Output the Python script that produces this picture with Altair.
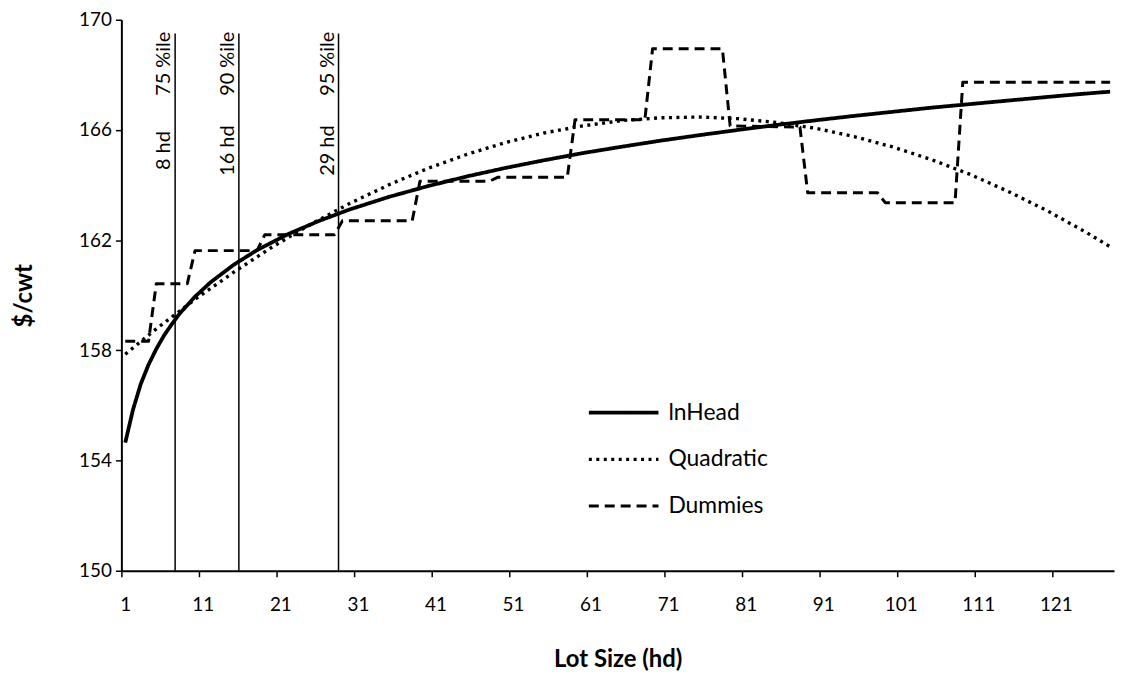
import altair as alt
import pandas as pd

# ---- data (x = lot-size category index, y = $/cwt) ----
inhead_x = [1, 2, 3, 4, 5, 6, 7, 8, 10, 12, 15, 18, 22, 26, 30, 35, 40, 45, 50, 55,
            60, 65, 70, 75, 80, 85, 90, 95, 100, 105, 110, 115, 120, 124, 128]
inhead_y = [154.65, 155.85, 156.78, 157.48, 158.05, 158.54, 158.95, 159.33, 159.95, 160.47,
            161.11, 161.64, 162.22, 162.70, 163.12, 163.57, 163.96, 164.31, 164.62, 164.90,
            165.16, 165.39, 165.61, 165.81, 166.00, 166.18, 166.35, 166.51, 166.66, 166.81,
            166.94, 167.07, 167.20, 167.30, 167.39]

quad_x = [1, 5, 10, 15, 20, 25, 30, 35, 40, 45, 50, 55, 60, 65, 70, 75, 80, 85, 90, 95,
          100, 105, 110, 115, 120, 125, 128]
quad_y = [157.86, 158.78, 159.85, 160.84, 161.76, 162.59, 163.34, 164.01, 164.60, 165.11,
          165.54, 165.89, 166.15, 166.34, 166.44, 166.47, 166.41, 166.27, 166.06, 165.76,
          165.38, 164.92, 164.38, 163.75, 163.05, 162.27, 161.76]

dummy_x = [1, 4, 5, 9, 10, 18, 19, 28, 29, 38, 39, 48, 49, 58, 59, 68, 69, 78, 79, 88,
           89, 98, 99, 108, 109, 128]
dummy_y = [158.33, 158.33, 160.42, 160.42, 161.62, 161.62, 162.20, 162.20, 162.70, 162.70,
           164.14, 164.14, 164.28, 164.28, 166.37, 166.37, 168.95, 168.95, 166.15, 166.10,
           163.72, 163.72, 163.36, 163.36, 167.73, 167.73]

series_names = ["lnHead", "Quadratic", "Dummies"]

# percentile marker lines
pct_x = [7.43, 15.65, 28.5]
pct_top = [169.5, 169.5, 169.5]
pct_labels = ["75 %ile", "90 %ile", "95 %ile"]
hd_labels = ["8 hd", "16 hd", "29 hd"]
pct_label_y = [168.4, 168.4, 168.4]
hd_label_y = [165.25, 165.25, 165.25]

x_tick_values = [1, 11, 21, 31, 41, 51, 61, 71, 81, 91, 101, 111, 121]
y_tick_values = [150, 154, 158, 162, 166, 170]

FONT = "Lato"

rows = []
for name, xs, ys in [("lnHead", inhead_x, inhead_y),
                     ("Quadratic", quad_x, quad_y),
                     ("Dummies", dummy_x, dummy_y)]:
    for i, (xv, yv) in enumerate(zip(xs, ys)):
        rows.append({"series": name, "x": xv, "y": yv, "i": i})
df = pd.DataFrame(rows)

marks_df = pd.DataFrame({"x": pct_x, "top": pct_top, "bottom": [150] * 3,
                         "pct": pct_labels, "hd": hd_labels,
                         "py": pct_label_y, "hy": hd_label_y})

xscale = alt.Scale(domain=[0.5, 128.5], zero=False, nice=False)
yscale = alt.Scale(domain=[150, 170], zero=False, nice=False)

xaxis = alt.Axis(values=x_tick_values, title="Lot Size (hd)", grid=False,
                 tickOffset=-3.9, labelOffset=3.9, tickSize=6, labelPadding=19,
                 titlePadding=33, labelFontSize=19, titleFontSize=24,
                 domainWidth=2, tickWidth=1.5, labelFlush=False)
yaxis = alt.Axis(values=y_tick_values, title="$/cwt", grid=False, tickSize=6,
                 labelPadding=4, titlePadding=42, labelFontSize=19, titleFontSize=24,
                 domainWidth=2, tickWidth=1.5)

lines = alt.Chart(df).mark_line(color="black", strokeCap="butt", strokeJoin="round").encode(
    x=alt.X("x:Q", scale=xscale, axis=xaxis),
    y=alt.Y("y:Q", scale=yscale, axis=yaxis),
    detail="series:N",
    order="i:Q",
    strokeDash=alt.StrokeDash("series:N",
                              scale=alt.Scale(domain=series_names,
                                              range=[[1, 0], [3, 4.5], [10, 6]]),
                              legend=alt.Legend(title=None)),
    strokeWidth=alt.StrokeWidth("series:N",
                                scale=alt.Scale(domain=series_names, range=[3.8, 3, 1.6]),
                                legend=alt.Legend(title=None)),
)

rules = alt.Chart(marks_df).mark_rule(color="black", strokeWidth=1.5).encode(
    x=alt.X("x:Q", scale=xscale),
    y=alt.Y("bottom:Q", scale=yscale),
    y2="top:Q",
)

pct_text = alt.Chart(marks_df).mark_text(angle=270, align="center", baseline="alphabetic",
                                          dy=-5, fontSize=20, font=FONT, color="black").encode(
    x=alt.X("x:Q", scale=xscale),
    y=alt.Y("py:Q", scale=yscale),
    text="pct:N",
)

hd_text = alt.Chart(marks_df).mark_text(angle=270, align="center", baseline="alphabetic",
                                         dy=-5, fontSize=20, font=FONT, color="black").encode(
    x=alt.X("x:Q", scale=xscale),
    y=alt.Y("hy:Q", scale=yscale),
    text="hd:N",
)

chart = alt.layer(rules, lines, pct_text, hd_text).properties(
    width=998, height=554,
    autosize=alt.AutoSizeParams(type="none"),
    padding={"left": 114, "top": 10, "right": 1, "bottom": 103},
).configure(
    font=FONT,
).configure_view(
    strokeWidth=0,
).configure_axis(
    domainColor="black", tickColor="black", labelColor="black", titleColor="black",
    labelFont=FONT, titleFont=FONT, titleFontWeight="bold",
).configure_legend(
    orient="none", legendX=468, legendY=383, padding=0, offset=0,
    clipHeight=24, rowPadding=23, symbolSize=4900, symbolType="stroke",
    symbolStrokeColor="black", labelOffset=8, labelFontSize=23, labelFont=FONT,
    labelColor="black", labelLimit=300,
)

chart.save("out.html", embed_options={"renderer": "svg", "actions": False})
